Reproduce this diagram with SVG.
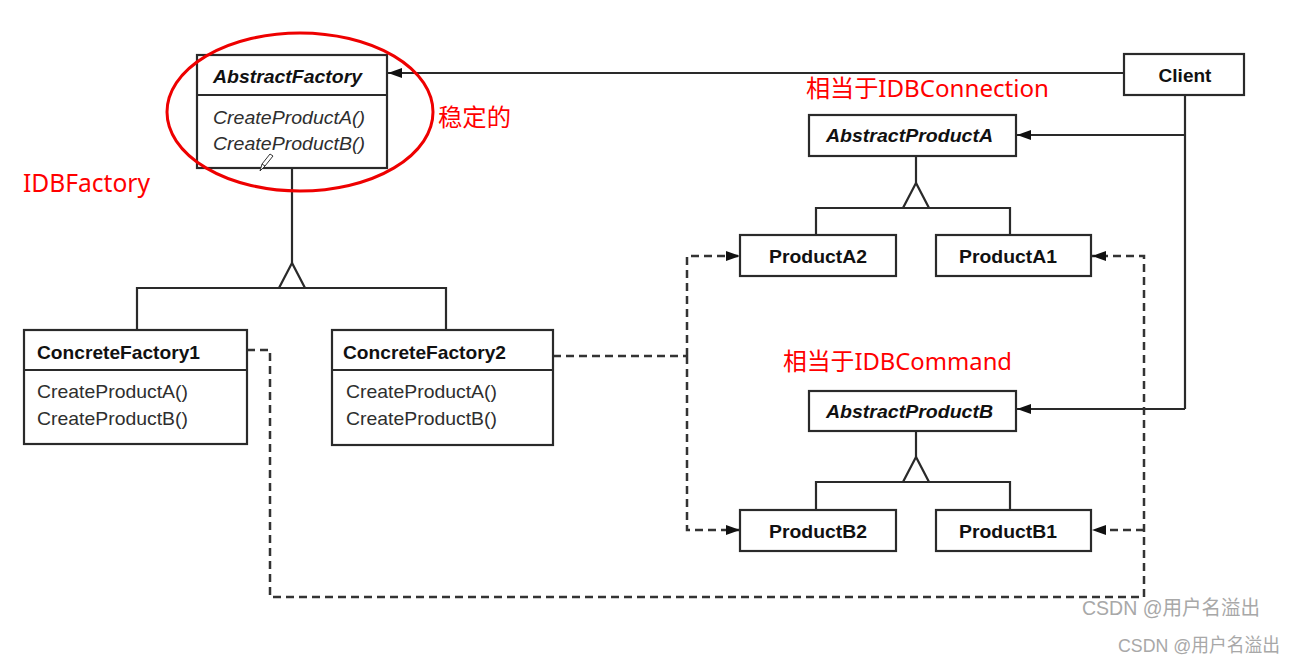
<svg xmlns="http://www.w3.org/2000/svg" width="1293" height="665" viewBox="0 0 1293 665">
  <style>
    .box { fill: #ffffff; stroke: #2a2a2a; stroke-width: 2.2; }
    .div { stroke: #2a2a2a; stroke-width: 2.2; }
    .t { font-family: "Liberation Sans", Arial, sans-serif; font-size: 19px; fill: #111111; }
    .b { font-weight: bold; }
    .i { font-style: italic; }
    .m { fill: #2e2e2e; }
    .line { fill: none; stroke: #2a2a2a; stroke-width: 2.2; }
    .dash { fill: none; stroke: #333333; stroke-width: 2.5; stroke-dasharray: 8 5; }
    .tri { fill: #ffffff; stroke: #2a2a2a; stroke-width: 2.2; stroke-linejoin: miter; }
    .note { font-family: "Noto Sans", "Noto Sans CJK SC", sans-serif; fill: #ff0000; }
    .wm { font-family: "Liberation Sans", "Noto Sans CJK SC", sans-serif; fill: #a8a8a8; }
  </style>
  <defs>
    <marker id="arrow" viewBox="0 0 14 10" refX="14" refY="5" markerWidth="14" markerHeight="10" markerUnits="userSpaceOnUse" orient="auto">
      <path d="M0,0 L14,5 L0,10 z" fill="#111111"/>
    </marker>
  </defs>

  <!-- connectors -->
  <g id="connectors">
    <!-- Client associations -->
    <path class="line" d="M1124,73 H388" marker-end="url(#arrow)"/>
    <path class="line" d="M1185,95 V409"/>
    <path class="line" d="M1185,135 H1017" marker-end="url(#arrow)"/>
    <path class="line" d="M1185,409 H1017" marker-end="url(#arrow)"/>

    <!-- factory generalization -->
    <path class="line" d="M292,168 V263"/>
    <path class="line" d="M137,330 V288 H446 V330"/>
    <polygon class="tri" points="292,263 279,288 305,288"/>

    <!-- product A generalization -->
    <path class="line" d="M916,156 V183"/>
    <path class="line" d="M816,235 V208 H1010 V235"/>
    <polygon class="tri" points="916,183 903,208 929,208"/>

    <!-- product B generalization -->
    <path class="line" d="M916,431 V457"/>
    <path class="line" d="M816,510 V482 H1010 V510"/>
    <polygon class="tri" points="916,457 903,482 929,482"/>

    <!-- ConcreteFactory2 creates ProductA2 / ProductB2 -->
    <path class="dash" d="M553,356 H687"/>
    <path class="dash" d="M687,356 V256 H740" marker-end="url(#arrow)"/>
    <path class="dash" d="M687,356 V530 H740" marker-end="url(#arrow)"/>

    <!-- ConcreteFactory1 creates ProductA1 / ProductB1 -->
    <path class="dash" d="M247,350 H270 V597 H1144 V256 H1092" marker-end="url(#arrow)"/>
    <path class="dash" d="M1144,530 H1092" marker-end="url(#arrow)"/>
  </g>

  <g id="AbstractFactory">
    <rect class="box" x="197" y="55" width="190" height="113"/>
    <line class="div" x1="197" y1="95" x2="387" y2="95"/>
    <text class="t b i" x="213" y="83" textLength="149" lengthAdjust="spacingAndGlyphs">AbstractFactory</text>
    <text class="t i m" x="213" y="124" textLength="152" lengthAdjust="spacingAndGlyphs">CreateProductA()</text>
    <text class="t i m" x="213" y="150" textLength="152" lengthAdjust="spacingAndGlyphs">CreateProductB()</text>
    <!-- pencil cursor -->
    <path d="M260,171 L262,164 L270,154 L273,156 L265,166 z M262,164 L265,166" fill="#ffffff" stroke="#333333" stroke-width="1"/>
  </g>

  <g id="ConcreteFactory1">
    <rect class="box" x="24" y="330" width="223" height="114"/>
    <line class="div" x1="24" y1="370" x2="247" y2="370"/>
    <text class="t b" x="37" y="359" textLength="163" lengthAdjust="spacingAndGlyphs">ConcreteFactory1</text>
    <text class="t m" x="37" y="398" textLength="151" lengthAdjust="spacingAndGlyphs">CreateProductA()</text>
    <text class="t m" x="37" y="425" textLength="151" lengthAdjust="spacingAndGlyphs">CreateProductB()</text>
  </g>

  <g id="ConcreteFactory2">
    <rect class="box" x="332" y="330" width="221" height="115"/>
    <line class="div" x1="332" y1="370" x2="553" y2="370"/>
    <text class="t b" x="343" y="359" textLength="163" lengthAdjust="spacingAndGlyphs">ConcreteFactory2</text>
    <text class="t m" x="346" y="398" textLength="151" lengthAdjust="spacingAndGlyphs">CreateProductA()</text>
    <text class="t m" x="346" y="425" textLength="151" lengthAdjust="spacingAndGlyphs">CreateProductB()</text>
  </g>

  <g id="Client">
    <rect class="box" x="1124" y="54" width="120" height="41"/>
    <text class="t b" x="1185" y="82" text-anchor="middle">Client</text>
  </g>

  <g id="AbstractProductA">
    <rect class="box" x="809" y="115" width="207" height="41"/>
    <text class="t b i" x="826" y="142" textLength="167" lengthAdjust="spacingAndGlyphs">AbstractProductA</text>
  </g>

  <g id="ProductA2">
    <rect class="box" x="740" y="235" width="156" height="41"/>
    <text class="t b" x="769" y="263" textLength="98" lengthAdjust="spacingAndGlyphs">ProductA2</text>
  </g>

  <g id="ProductA1">
    <rect class="box" x="936" y="235" width="155" height="41"/>
    <text class="t b" x="959" y="263" textLength="98" lengthAdjust="spacingAndGlyphs">ProductA1</text>
  </g>

  <g id="AbstractProductB">
    <rect class="box" x="809" y="391" width="207" height="40"/>
    <text class="t b i" x="826" y="418" textLength="167" lengthAdjust="spacingAndGlyphs">AbstractProductB</text>
  </g>

  <g id="ProductB2">
    <rect class="box" x="740" y="510" width="156" height="41"/>
    <text class="t b" x="769" y="538" textLength="98" lengthAdjust="spacingAndGlyphs">ProductB2</text>
  </g>

  <g id="ProductB1">
    <rect class="box" x="936" y="510" width="155" height="41"/>
    <text class="t b" x="959" y="538" textLength="98" lengthAdjust="spacingAndGlyphs">ProductB1</text>
  </g>

  <!-- annotations -->
  <g id="annotations">
    <ellipse cx="300" cy="112" rx="133" ry="79" fill="none" stroke="#ee0000" stroke-width="3"/>
    <text class="note" x="438" y="126" font-size="24" textLength="73" lengthAdjust="spacingAndGlyphs">稳定的</text>
    <text class="note" x="23" y="192" font-size="25" textLength="127" lengthAdjust="spacingAndGlyphs">IDBFactory</text>
    <text class="note" x="806" y="97" font-size="24" textLength="243" lengthAdjust="spacingAndGlyphs">相当于IDBConnection</text>
    <text class="note" x="783" y="370" font-size="24" textLength="229" lengthAdjust="spacingAndGlyphs">相当于IDBCommand</text>
  </g>

  <g id="watermarks">
    <text class="wm" x="1082" y="615" font-size="20" textLength="178" lengthAdjust="spacingAndGlyphs">CSDN @用户名溢出</text>
    <text class="wm" x="1118" y="652" font-size="19" textLength="162" lengthAdjust="spacingAndGlyphs">CSDN @用户名溢出</text>
  </g>
</svg>
